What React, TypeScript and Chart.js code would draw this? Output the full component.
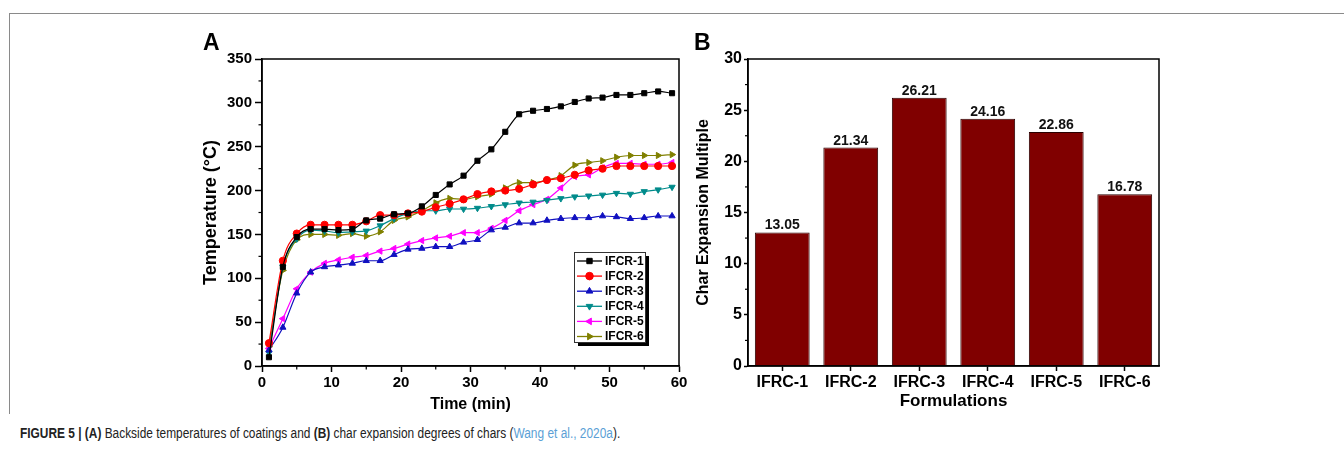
import { useEffect, useRef } from 'react';
import { Chart, registerables } from 'chart.js';

Chart.register(...registerables);

// ---------- data ----------
const timeMin = [1, 3, 5, 7, 9, 11, 13, 15, 17, 19, 21, 23, 25, 27, 29, 31, 33, 35, 37, 39, 41, 43, 45, 47, 49, 51, 53, 55, 57, 59];
const ifcr1 = [10, 113, 147, 156, 156, 155, 156, 166, 168, 173, 174, 182, 195, 207, 217, 234, 247, 267, 287, 291, 293, 296, 301, 305, 306, 309, 309, 311, 313, 311];
const ifcr2 = [26, 120, 151, 161, 161, 161, 161, 165, 172, 172, 174, 176, 181, 185, 190, 196, 199, 200, 202, 207, 212, 214, 218, 223, 225, 228, 228, 228, 228, 228];
const ifcr3 = [18, 44, 83, 107, 113, 115, 117, 120, 120, 127, 133, 134, 136, 136, 141, 144, 155, 158, 163, 163, 166, 168, 169, 169, 171, 170, 168, 169, 171, 171];
const ifcr4 = [15, 113, 145, 155, 154, 152, 153, 154, 160, 168, 174, 177, 177, 179, 179, 180, 182, 184, 186, 187, 189, 191, 193, 194, 195, 197, 196, 199, 201, 204];
const ifcr5 = [20, 54, 88, 107, 117, 121, 124, 126, 131, 134, 139, 143, 146, 148, 152, 152, 157, 166, 177, 184, 190, 203, 216, 218, 226, 231, 231, 230, 230, 232];
const ifcr6 = [22, 109, 144, 150, 150, 149, 151, 148, 153, 166, 170, 177, 186, 191, 190, 193, 196, 203, 209, 209, 212, 217, 229, 232, 234, 238, 240, 240, 240, 241];
const seriesNames = ['IFCR-1', 'IFCR-2', 'IFCR-3', 'IFCR-4', 'IFCR-5', 'IFCR-6'];
const seriesValues = [ifcr1, ifcr2, ifcr3, ifcr4, ifcr5, ifcr6];

const formulations = ['IFRC-1', 'IFRC-2', 'IFRC-3', 'IFRC-4', 'IFRC-5', 'IFRC-6'];
const expansion = [13.05, 21.34, 26.21, 24.16, 22.86, 16.78];

// ---------- styles ----------
const FONT = "'Liberation Sans', Arial, Helvetica, sans-serif";
const seriesStyle = [
  { color: '#000000', pointStyle: 'rect', rotation: 0 },
  { color: '#ff0000', pointStyle: 'circle', rotation: 0 },
  { color: '#1010c0', pointStyle: 'triangle', rotation: 0 },
  { color: '#008b8b', pointStyle: 'triangle', rotation: 180 },
  { color: '#ff00ff', pointStyle: 'triangle', rotation: 270 },
  { color: '#808000', pointStyle: 'triangle', rotation: 90 },
];

function drawMarker(ctx: CanvasRenderingContext2D, style: string, rotationDeg: number, x: number, y: number, r: number) {
  ctx.beginPath();
  if (style === 'circle') {
    ctx.arc(x, y, r, 0, Math.PI * 2);
  } else if (style === 'rect') {
    const s = r * Math.SQRT1_2;
    ctx.rect(x - s, y - s, 2 * s, 2 * s);
  } else {
    let rad = (rotationDeg * Math.PI) / 180;
    ctx.moveTo(x + Math.sin(rad) * r, y - Math.cos(rad) * r);
    rad += (2 * Math.PI) / 3;
    ctx.lineTo(x + Math.sin(rad) * r, y - Math.cos(rad) * r);
    rad += (2 * Math.PI) / 3;
    ctx.lineTo(x + Math.sin(rad) * r, y - Math.cos(rad) * r);
    ctx.closePath();
  }
  ctx.fill();
  ctx.stroke();
}

const framePlugin = (minorX: boolean, minorLen: number) => ({
  id: 'frameMinor',
  afterDraw(chart: any) {
    const { ctx, chartArea: a, scales } = chart;
    ctx.save();
    ctx.strokeStyle = '#000';
    ctx.lineWidth = 1.5;
    ctx.strokeRect(a.left, a.top, a.right - a.left, a.bottom - a.top);
    ctx.lineWidth = 1.2;
    const yt = scales.y.ticks;
    for (let i = 0; i < yt.length - 1; i++) {
      const v = (yt[i].value + yt[i + 1].value) / 2;
      const py = scales.y.getPixelForValue(v);
      ctx.beginPath();
      ctx.moveTo(a.left, py);
      ctx.lineTo(a.left - minorLen, py);
      ctx.stroke();
    }
    if (minorX) {
      const xt = scales.x.ticks;
      for (let i = 0; i < xt.length - 1; i++) {
        const v = (xt[i].value + xt[i + 1].value) / 2;
        const px = scales.x.getPixelForValue(v);
        ctx.beginPath();
        ctx.moveTo(px, a.bottom);
        ctx.lineTo(px, a.bottom + minorLen);
        ctx.stroke();
      }
    }
    ctx.restore();
  },
});

const legendPlugin = {
  id: 'insideLegend',
  afterDraw(chart: any) {
    const { ctx, chartArea: a } = chart;
    const left = a.right - 105;
    const top = a.bottom - 114;
    const w = 71;
    const h = 90;
    ctx.save();
    ctx.fillStyle = '#000';
    ctx.fillRect(left + 4, top + 4, w, h);
    ctx.fillStyle = '#fff';
    ctx.fillRect(left, top, w, h);
    ctx.strokeStyle = '#333';
    ctx.lineWidth = 1;
    ctx.strokeRect(left + 0.5, top + 0.5, w, h);
    ctx.font = `bold 12px ${FONT}`;
    ctx.textBaseline = 'middle';
    ctx.textAlign = 'left';
    chart.data.datasets.forEach((ds: any, i: number) => {
      const y = top + 9 + i * 15.1;
      const st = seriesStyle[i];
      ctx.strokeStyle = st.color;
      ctx.fillStyle = st.color;
      ctx.lineWidth = 1.3;
      ctx.beginPath();
      ctx.moveTo(left + 3, y);
      ctx.lineTo(left + 28, y);
      ctx.stroke();
      ctx.lineWidth = 1;
      drawMarker(ctx, st.pointStyle, st.rotation, left + 15.5, y, 3.8);
      ctx.fillStyle = '#000';
      ctx.fillText(ds.label, left + 31, y + 0.5);
    });
    ctx.restore();
  },
};

const barLabelPlugin = {
  id: 'barLabels',
  afterDatasetsDraw(chart: any) {
    const { ctx } = chart;
    const meta = chart.getDatasetMeta(0);
    const vals = chart.data.datasets[0].data as number[];
    ctx.save();
    ctx.font = `bold 14px ${FONT}`;
    ctx.fillStyle = '#111';
    ctx.textAlign = 'center';
    ctx.textBaseline = 'alphabetic';
    meta.data.forEach((bar: any, i: number) => {
      ctx.fillText(vals[i].toFixed(2), bar.x, bar.y - 3);
    });
    ctx.restore();
  },
};

function TempChart() {
  const ref = useRef<HTMLCanvasElement>(null);
  useEffect(() => {
    const chart = new Chart(ref.current as HTMLCanvasElement, {
      type: 'line',
      data: {
        datasets: seriesValues.map((vals, i) => ({
          label: seriesNames[i],
          data: timeMin.map((t, j) => ({ x: t, y: vals[j] })),
          borderColor: seriesStyle[i].color,
          backgroundColor: seriesStyle[i].color,
          pointBackgroundColor: seriesStyle[i].color,
          pointBorderColor: seriesStyle[i].color,
          pointStyle: seriesStyle[i].pointStyle as any,
          pointRotation: seriesStyle[i].rotation,
          pointRadius: 3.6,
          pointBorderWidth: 1,
          borderWidth: 1.2,
          cubicInterpolationMode: 'monotone' as const,
          fill: false,
        })),
      },
      options: {
        animation: false,
        responsive: false,
        layout: { padding: { top: 39, right: 21, left: 0, bottom: 0 } },
        plugins: { legend: { display: false }, tooltip: { enabled: false } },
        scales: {
          x: {
            type: 'linear',
            min: 0,
            max: 60,
            ticks: { stepSize: 10, color: '#000', padding: 2, maxRotation: 0, font: { family: FONT, size: 15, weight: 'bold' } },
            grid: { drawOnChartArea: false, drawTicks: true, tickLength: 6, tickColor: '#000', tickWidth: 1.5 },
            border: { display: true, color: '#000', width: 1.5 },
            title: { display: true, text: 'Time (min)', color: '#000', font: { family: FONT, size: 16, weight: 'bold' }, padding: { top: 0, bottom: 6 } },
            afterFit: (s: any) => { s.height = 54; },
          },
          y: {
            type: 'linear',
            min: 0,
            max: 350,
            ticks: { stepSize: 50, color: '#000', padding: 3, font: { family: FONT, size: 15, weight: 'bold' } },
            grid: { drawOnChartArea: false, drawTicks: true, tickLength: 7, tickColor: '#000', tickWidth: 1.5 },
            border: { display: true, color: '#000', width: 1.5 },
            title: { display: true, text: 'Temperature (°C)', color: '#000', font: { family: FONT, size: 18, weight: 'bold' }, padding: { top: 50, bottom: 0 } },
            afterFit: (s: any) => { s.width = 112; },
          },
        },
      },
      plugins: [framePlugin(true, 3.5), legendPlugin],
    });
    return () => chart.destroy();
  }, []);
  return <canvas ref={ref} width={550} height={400} style={{ position: 'absolute', left: 150, top: 20, width: 550, height: 400 }} />;
}

function BarChart() {
  const ref = useRef<HTMLCanvasElement>(null);
  useEffect(() => {
    const chart = new Chart(ref.current as HTMLCanvasElement, {
      type: 'bar',
      data: {
        labels: formulations,
        datasets: [
          {
            label: 'Char Expansion Multiple',
            data: expansion,
            backgroundColor: '#800000',
            borderColor: '#2a0000',
            borderWidth: 1,
            barPercentage: 0.8,
            categoryPercentage: 1.0,
          },
        ],
      },
      options: {
        animation: false,
        responsive: false,
        layout: { padding: { top: 39, right: 21, left: 0, bottom: 0 } },
        plugins: { legend: { display: false }, tooltip: { enabled: false } },
        scales: {
          x: {
            type: 'category',
            ticks: { color: '#000', padding: 2, maxRotation: 0, font: { family: FONT, size: 16, weight: 'bold' } },
            grid: { offset: false, drawOnChartArea: false, drawTicks: true, tickLength: 5, tickColor: '#000', tickWidth: 1.5 },
            border: { display: true, color: '#000', width: 1.5 },
            title: { display: true, text: 'Formulations', color: '#000', font: { family: FONT, size: 17, weight: 'bold' }, padding: { top: 0, bottom: 8 } },
            afterFit: (s: any) => { s.height = 54; },
          },
          y: {
            type: 'linear',
            min: 0,
            max: 30,
            ticks: { stepSize: 5, color: '#000', padding: 2, font: { family: FONT, size: 16, weight: 'bold' } },
            grid: { drawOnChartArea: false, drawTicks: true, tickLength: 4, tickColor: '#000', tickWidth: 1.5 },
            border: { display: true, color: '#000', width: 1.5 },
            title: { display: true, text: 'Char Expansion Multiple', color: '#000', font: { family: FONT, size: 16, weight: 'bold' }, padding: { top: 14, bottom: 0 } },
            afterFit: (s: any) => { s.width = 68; },
          },
        },
      },
      plugins: [framePlugin(false, 3), barLabelPlugin],
    });
    return () => chart.destroy();
  }, []);
  return <canvas ref={ref} width={500} height={400} style={{ position: 'absolute', left: 680, top: 20, width: 500, height: 400 }} />;
}

export default function App() {
  const letter: React.CSSProperties = { position: 'absolute', fontFamily: FONT, fontWeight: 'bold', fontSize: 23, lineHeight: '23px', color: '#000' };
  return (
    <div style={{ position: 'absolute', left: 0, top: 0, width: 1344, height: 473, background: '#fff', overflow: 'hidden' }}>
      <div style={{ position: 'absolute', left: 9, top: 13, width: 1340, height: 400, borderTop: '1.5px solid #8a8a8a', borderLeft: '1.5px solid #8a8a8a' }} />
      <TempChart />
      <BarChart />
      <div style={{ ...letter, left: 203, top: 31 }}>A</div>
      <div style={{ ...letter, left: 694, top: 31 }}>B</div>
      <div style={{ position: 'absolute', left: 20, top: 425, fontFamily: "'Liberation Sans Narrow', 'Liberation Sans', Arial, sans-serif", fontSize: 14, lineHeight: '17px', color: '#222', whiteSpace: 'nowrap', transform: 'scaleX(0.85)', transformOrigin: '0 0' }}>
        <b>FIGURE 5 | (A)</b> Backside temperatures of coatings and <b>(B)</b> char expansion degrees of chars (<span style={{ color: '#5b9fd6' }}>Wang et al., 2020a</span>).
      </div>
    </div>
  );
}
